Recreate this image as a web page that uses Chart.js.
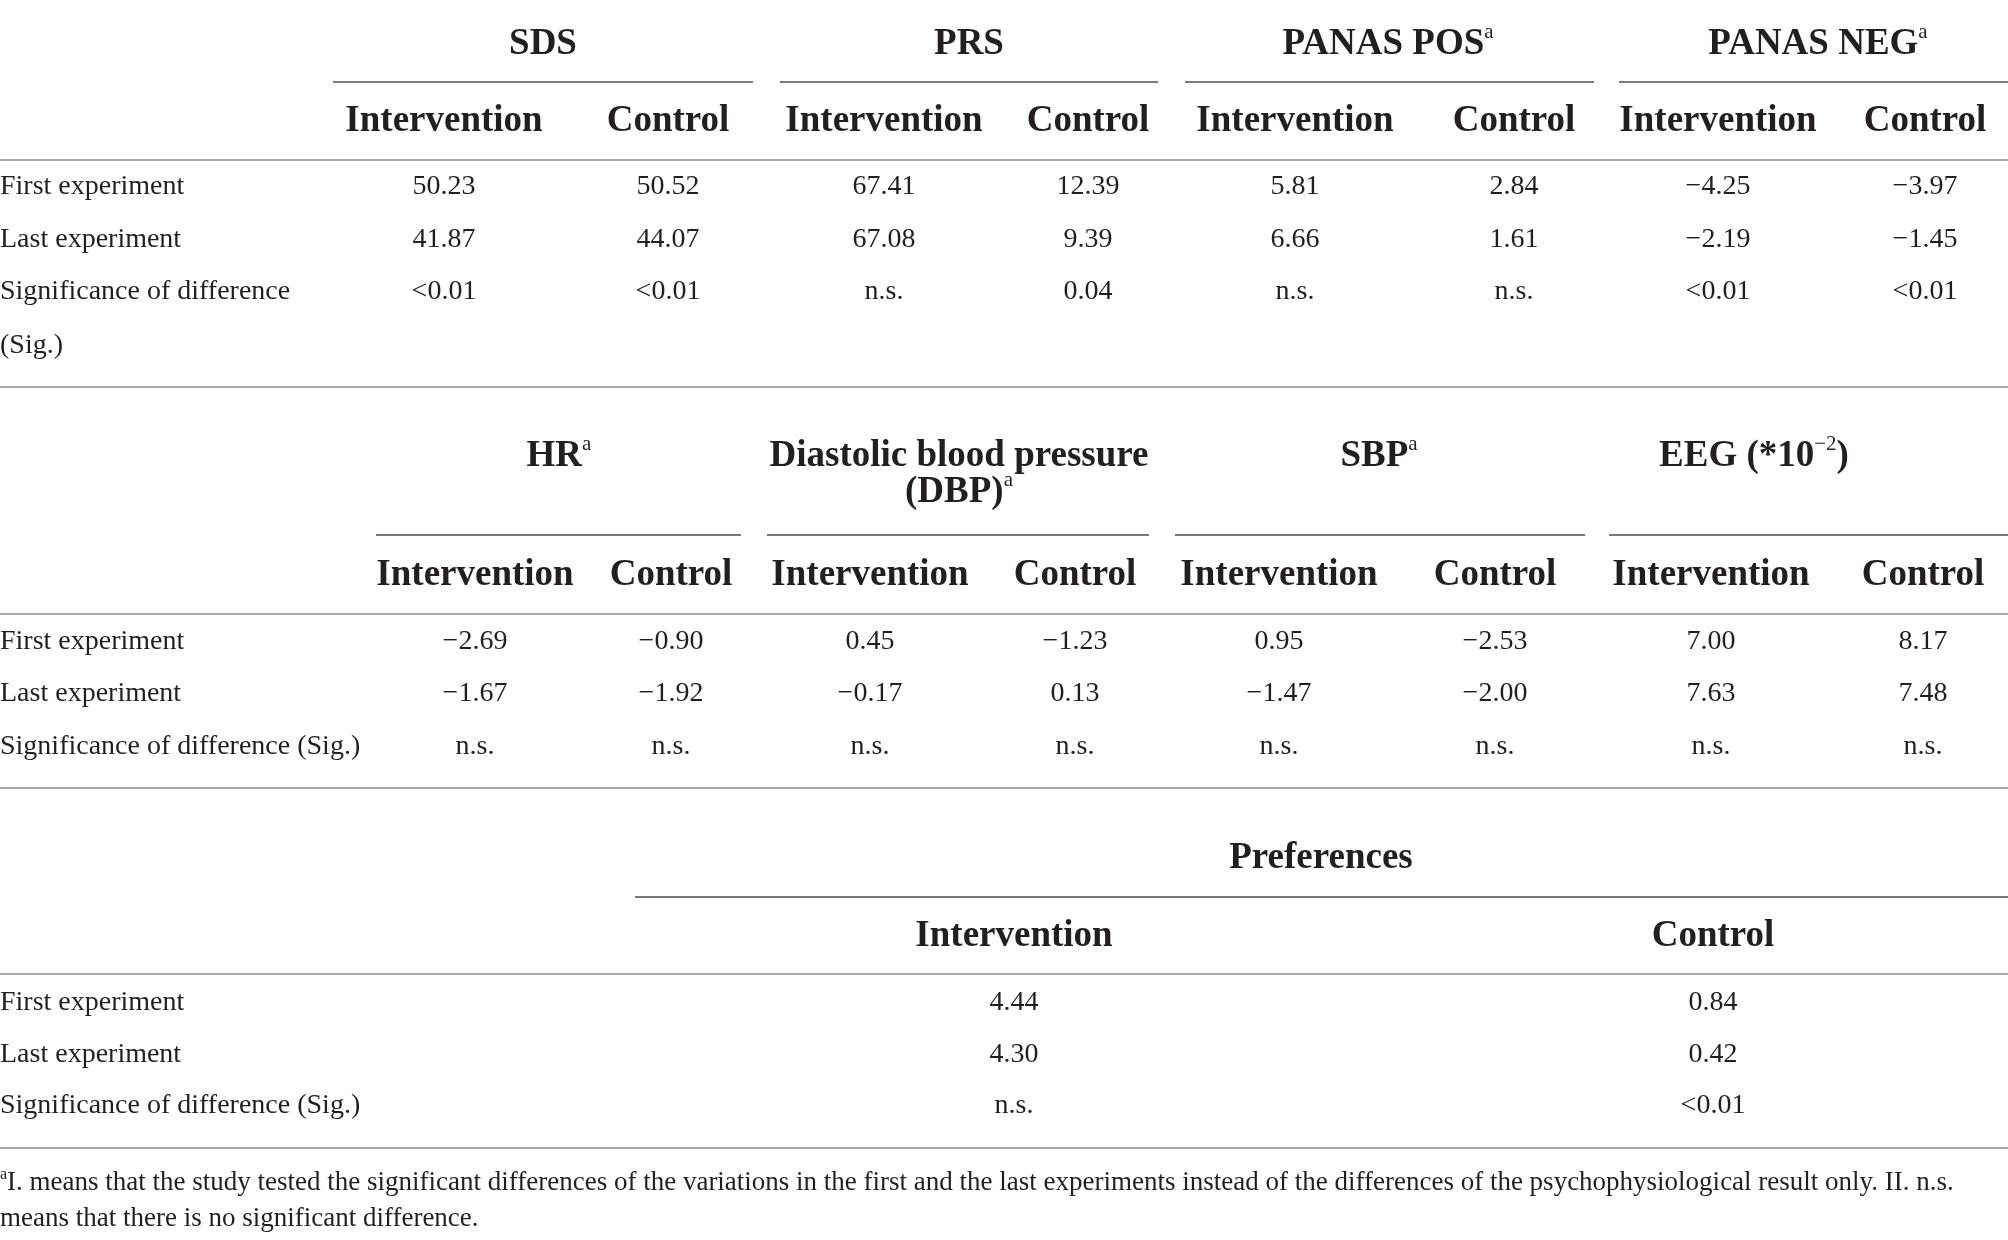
<!DOCTYPE html>
<html>
<head>
<meta charset="utf-8">
<script src="https://cdn.jsdelivr.net/npm/chart.js@4.4.1/dist/chart.umd.min.js"></script>
<style>
  html, body { margin: 0; padding: 0; background: #fff; }
  canvas { display: block; }
</style>
</head>
<body>
<canvas id="tbl" width="2008" height="1240"></canvas>
<script>
// ==== table data ====
const armLabels = ['Intervention', 'Control'];
const rowLabelsTop = ['First experiment', 'Last experiment', 'Significance of difference\n(Sig.)'];
const rowLabels = ['First experiment', 'Last experiment', 'Significance of difference (Sig.)'];

const groupsTop = ['SDS', 'PRS', 'PANAS POS{a}', 'PANAS NEG{a}'];
const groupsMid = ['HR{a}', 'Diastolic blood pressure\n(DBP){a}', 'SBP{a}', 'EEG (*10{−2})'];
const groupsBottom = ['Preferences'];

const sdsIntervention = ['50.23', '41.87', '<0.01'];
const sdsControl = ['50.52', '44.07', '<0.01'];
const prsIntervention = ['67.41', '67.08', 'n.s.'];
const prsControl = ['12.39', '9.39', '0.04'];
const posIntervention = ['5.81', '6.66', 'n.s.'];
const posControl = ['2.84', '1.61', 'n.s.'];
const negIntervention = ['−4.25', '−2.19', '<0.01'];
const negControl = ['−3.97', '−1.45', '<0.01'];

const hrIntervention = ['−2.69', '−1.67', 'n.s.'];
const hrControl = ['−0.90', '−1.92', 'n.s.'];
const dbpIntervention = ['0.45', '−0.17', 'n.s.'];
const dbpControl = ['−1.23', '0.13', 'n.s.'];
const sbpIntervention = ['0.95', '−1.47', 'n.s.'];
const sbpControl = ['−2.53', '−2.00', 'n.s.'];
const eegIntervention = ['7.00', '7.63', 'n.s.'];
const eegControl = ['8.17', '7.48', 'n.s.'];

const prefIntervention = ['4.44', '4.30', 'n.s.'];
const prefControl = ['0.84', '0.42', '<0.01'];

const footnote = [
  '{a}I. means that the study tested the significant differences of the variations in the first and the last experiments instead of the differences of the psychophysiological result only. II. n.s.',
  'means that there is no significant difference.'
];

// ==== layout (table units, mapped through the chart scales) ====
const W = 2008, H = 1240;
const FONT = '"Liberation Serif", "DejaVu Serif", serif';
const INK = '#231f20';
const TEXT_DY = 3;

const sections = [
  {
    groups: groupsTop, labels: rowLabelsTop,
    cols: [[sdsIntervention, sdsControl], [prsIntervention, prsControl], [posIntervention, posControl], [negIntervention, negControl]],
    groupX: [543, 969, 1388, 1818], groupY: 41,
    lineX: [[333, 753], [780, 1158], [1185, 1594], [1619, 2008]], lineY: 82,
    colX: [[444, 668], [884, 1088], [1295, 1514], [1718, 1925]], subY: 118,
    ruleTop: 160, rowY: [184, 237, 289], ruleBottom: 387
  },
  {
    groups: groupsMid, labels: rowLabels,
    cols: [[hrIntervention, hrControl], [dbpIntervention, dbpControl], [sbpIntervention, sbpControl], [eegIntervention, eegControl]],
    groupX: [559, 959, 1379, 1754], groupY: 453,
    lineX: [[376, 741], [767, 1149], [1175, 1585], [1609, 2008]], lineY: 535,
    colX: [[475, 671], [870, 1075], [1279, 1495], [1711, 1923]], subY: 572,
    ruleTop: 614, rowY: [639, 691, 744], ruleBottom: 788
  },
  {
    groups: groupsBottom, labels: rowLabels,
    cols: [[prefIntervention, prefControl]],
    groupX: [1321], groupY: 855,
    lineX: [[635, 2008]], lineY: 897,
    colX: [[1014, 1713]], subY: 933,
    ruleTop: 974, rowY: [1000, 1052, 1103], ruleBottom: 1148
  }
];
const footY = [1180, 1216];

// ==== datasets: every cell is a point placed by the scales ====
const datasets = [];
sections.forEach((s) => {
  datasets.push({
    align: 'left', bold: false,
    data: s.labels.map((t, i) => ({ x: 0, y: s.rowY[i] + TEXT_DY, text: t }))
  });
  s.cols.forEach((pair, g) => {
    pair.forEach((vals, k) => {
      datasets.push({
        align: 'center', bold: false,
        data: vals.map((t, i) => ({ x: s.colX[g][k], y: s.rowY[i] + TEXT_DY, text: t }))
      });
      datasets.push({
        align: 'center', bold: true,
        data: [{ x: s.colX[g][k], y: s.subY + TEXT_DY, text: armLabels[k] }]
      });
    });
    datasets.push({
      align: 'center', bold: true,
      data: [{ x: s.groupX[g], y: s.groupY + TEXT_DY, text: s.groups[g] }]
    });
  });
});
datasets.push({
  align: 'left', bold: false, small: true,
  data: footnote.map((t, i) => ({ x: 0, y: footY[i] + TEXT_DY, text: t }))
});
datasets.forEach(d => { d.pointRadius = 0; d.showLine = false; });

// ==== rich text: {..} marks a superscript ====
const fontFor = (size, bold, sup) =>
  `${bold && !sup ? 'bold ' : ''}${sup ? Math.round(size * 0.58) : size}px ${FONT}`;

const drawRich = (ctx, text, x, y, size, bold, align) => {
  const parts = text.split(/(\{[^}]*\})/).filter(p => p !== '').map(p => (
    p[0] === '{' ? { t: p.slice(1, -1), sup: true } : { t: p, sup: false }
  ));
  const w = parts.reduce((acc, p) => {
    ctx.font = fontFor(size, bold, p.sup);
    return acc + ctx.measureText(p.t).width;
  }, 0);
  let cx = align === 'center' ? x - w / 2 : x;
  parts.forEach(p => {
    ctx.font = fontFor(size, bold, p.sup);
    ctx.fillText(p.t, cx, p.sup ? y - size * 0.32 : y);
    cx += ctx.measureText(p.t).width;
  });
};

const tablePlugin = {
  id: 'tablePlugin',
  afterDraw(chart) {
    const ctx = chart.ctx;
    const px = v => chart.scales.x.getPixelForValue(v);
    const py = v => chart.scales.y.getPixelForValue(v);
    ctx.save();

    // rules
    const hline = (x0, x1, y, color) => {
      ctx.strokeStyle = color;
      ctx.lineWidth = 2;
      ctx.beginPath();
      ctx.moveTo(px(x0), py(y));
      ctx.lineTo(px(x1), py(y));
      ctx.stroke();
    };
    sections.forEach(s => {
      s.lineX.forEach(l => hline(l[0], l[1], s.lineY, '#7b7b7b'));
      hline(0, W, s.ruleTop, '#a9a9a9');
      hline(0, W, s.ruleBottom, '#a9a9a9');
    });

    // cells
    ctx.fillStyle = INK;
    ctx.textAlign = 'left';
    ctx.textBaseline = 'middle';
    chart.data.datasets.forEach((ds, di) => {
      const meta = chart.getDatasetMeta(di);
      const size = ds.small ? 27 : (ds.bold ? 37 : 28);
      meta.data.forEach((el, i) => {
        const lines = ds.data[i].text.split('\n');
        const lh = ds.bold ? 36 : 54;
        lines.forEach((ln, j) => drawRich(ctx, ln, el.x, el.y + j * lh, size, ds.bold, ds.align));
      });
    });
    ctx.restore();
  }
};

new Chart(document.getElementById('tbl'), {
  type: 'scatter',
  data: { datasets },
  options: {
    responsive: false,
    animation: false,
    devicePixelRatio: 1,
    layout: { padding: 0 },
    events: [],
    scales: {
      x: { type: 'linear', min: 0, max: W, display: false },
      y: { type: 'linear', min: 0, max: H, reverse: true, display: false }
    },
    plugins: { legend: { display: false }, tooltip: { enabled: false } }
  },
  plugins: [tablePlugin]
});
</script>
</body>
</html>
